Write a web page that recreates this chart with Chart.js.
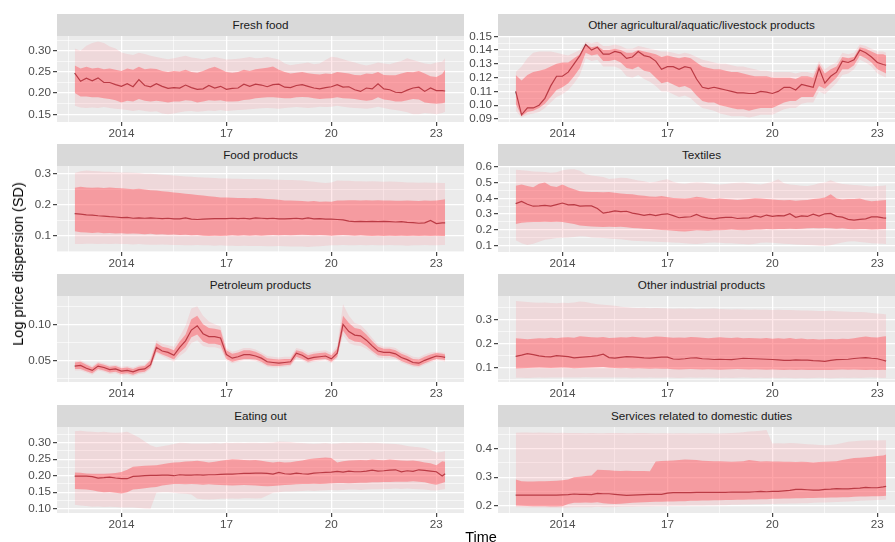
<!DOCTYPE html>
<html><head><meta charset="utf-8">
<script src="https://cdn.jsdelivr.net/npm/chart.js@4.4.1/dist/chart.umd.min.js"></script>
<style>
html,body{margin:0;padding:0;background:#fff;overflow:hidden;}
#wrap{position:relative;width:895px;height:542px;overflow:hidden;background:#fff;font-family:"Liberation Sans",Arial,Helvetica,sans-serif;}
.strip{position:absolute;height:22px;background:#D9D9D9;color:#1A1A1A;font-size:11.7px;line-height:22px;text-align:center;white-space:nowrap;}
canvas{position:absolute;}
.ttl{position:absolute;color:#000;font-size:14.5px;white-space:nowrap;}
</style></head><body><div id="wrap"></div>
<script>
// ---- time axis (bi-monthly observations) ----
const months = ["2012-09","2012-11",
"2013-01","2013-03","2013-05","2013-07","2013-09","2013-11",
"2014-01","2014-03","2014-05","2014-07","2014-09","2014-11",
"2015-01","2015-03","2015-05","2015-07","2015-09","2015-11",
"2016-01","2016-03","2016-05","2016-07","2016-09","2016-11",
"2017-01","2017-03","2017-05","2017-07","2017-09","2017-11",
"2018-01","2018-03","2018-05","2018-07","2018-09","2018-11",
"2019-01","2019-03","2019-05","2019-07","2019-09","2019-11",
"2020-01","2020-03","2020-05","2020-07","2020-09","2020-11",
"2021-01","2021-03","2021-05","2021-07","2021-09","2021-11",
"2022-01","2022-03","2022-05","2022-07","2022-09","2022-11",
"2023-01","2023-03","2023-04"];
const xTickValues = [2014, 2017, 2020, 2023];
const xTickLabels = ["2014", "17", "20", "23"];
const categories = ["Fresh food","Other agricultural/aquatic/livestock products","Food products","Textiles","Petroleum products","Other industrial products","Eating out","Services related to domestic duties"];

// ---- Fresh food ----
const freshMed=[0.247,0.228,0.235,0.229,0.236,0.225,0.225,0.220,0.216,0.222,0.215,0.232,0.218,
0.215,0.222,0.216,0.211,0.213,0.212,0.219,0.213,0.209,0.210,0.218,0.212,0.216,
0.209,0.211,0.212,0.221,0.216,0.221,0.219,0.215,0.220,0.221,0.214,0.213,0.218,
0.220,0.216,0.212,0.210,0.213,0.215,0.220,0.214,0.215,0.208,0.204,0.212,0.210,
0.222,0.210,0.208,0.202,0.201,0.207,0.212,0.214,0.204,0.212,0.206,0.206,0.205];
const freshInHi=[0.265,0.258,0.262,0.258,0.260,0.256,0.258,0.255,0.252,0.258,0.255,0.262,0.256,
0.258,0.257,0.252,0.250,0.252,0.251,0.255,0.250,0.248,0.252,0.258,0.262,0.256,
0.250,0.248,0.250,0.255,0.252,0.256,0.258,0.260,0.263,0.255,0.250,0.246,0.248,
0.250,0.247,0.245,0.244,0.246,0.245,0.250,0.248,0.246,0.243,0.242,0.246,0.245,
0.250,0.243,0.242,0.242,0.246,0.250,0.249,0.252,0.246,0.240,0.238,0.245,0.255];
const freshInLo=[0.200,0.192,0.192,0.190,0.190,0.188,0.186,0.183,0.178,0.182,0.180,0.186,0.182,
0.180,0.182,0.180,0.178,0.180,0.180,0.183,0.182,0.178,0.180,0.183,0.182,0.183,
0.180,0.180,0.181,0.184,0.185,0.188,0.189,0.190,0.190,0.189,0.188,0.188,0.190,
0.191,0.190,0.188,0.186,0.187,0.188,0.190,0.188,0.187,0.186,0.184,0.182,0.184,
0.190,0.185,0.183,0.180,0.180,0.183,0.186,0.185,0.178,0.176,0.175,0.176,0.178];
const freshOutHi=[0.305,0.300,0.312,0.318,0.322,0.318,0.310,0.305,0.296,0.292,0.290,0.295,0.292,
0.288,0.285,0.282,0.280,0.282,0.285,0.288,0.284,0.282,0.280,0.283,0.285,0.282,
0.279,0.280,0.281,0.283,0.285,0.282,0.283,0.285,0.282,0.279,0.270,0.266,0.268,
0.270,0.272,0.268,0.270,0.278,0.286,0.284,0.280,0.276,0.272,0.268,0.265,0.268,
0.272,0.270,0.268,0.272,0.276,0.282,0.278,0.274,0.270,0.268,0.272,0.274,0.282];
const freshOutLo=[0.170,0.166,0.165,0.166,0.165,0.167,0.165,0.163,0.162,0.160,0.158,0.160,0.158,
0.156,0.157,0.152,0.150,0.152,0.155,0.157,0.158,0.156,0.157,0.159,0.158,0.160,
0.158,0.159,0.160,0.161,0.162,0.163,0.164,0.165,0.164,0.163,0.165,0.166,0.167,
0.166,0.165,0.166,0.168,0.167,0.168,0.170,0.168,0.166,0.165,0.164,0.163,0.165,
0.168,0.165,0.162,0.160,0.158,0.155,0.150,0.150,0.153,0.152,0.150,0.153,0.156];
const freshTicks=[0.15,0.20,0.25,0.30];

// ---- Other agricultural/aquatic/livestock products ----
const agriMed=[0.110,0.093,0.098,0.098,0.100,0.105,0.114,0.121,0.121,0.124,0.130,0.136,0.144,
0.140,0.142,0.137,0.137,0.139,0.138,0.134,0.135,0.139,0.136,0.135,0.132,0.126,
0.128,0.128,0.126,0.128,0.127,0.119,0.113,0.112,0.113,0.112,0.111,0.110,0.109,
0.109,0.1085,0.1085,0.110,0.1095,0.1085,0.110,0.113,0.113,0.111,0.115,0.114,0.113,
0.127,0.116,0.121,0.124,0.132,0.131,0.133,0.140,0.138,0.135,0.131,0.1295,0.129];
const agriInHi=[0.122,0.118,0.122,0.124,0.125,0.126,0.128,0.130,0.131,0.131,0.134,0.137,0.144,
0.142,0.143,0.140,0.140,0.141,0.140,0.138,0.138,0.140,0.139,0.138,0.137,0.135,
0.136,0.135,0.134,0.135,0.134,0.131,0.128,0.127,0.126,0.126,0.125,0.124,0.124,
0.123,0.122,0.121,0.121,0.121,0.120,0.120,0.120,0.120,0.119,0.121,0.121,0.120,
0.130,0.123,0.126,0.128,0.135,0.134,0.135,0.142,0.141,0.139,0.137,0.137,0.136];
const agriInLo=[0.101,0.092,0.095,0.096,0.098,0.101,0.106,0.111,0.113,0.116,0.121,0.127,0.138,
0.136,0.137,0.132,0.132,0.133,0.131,0.127,0.126,0.128,0.125,0.124,0.120,0.116,
0.117,0.115,0.113,0.114,0.112,0.107,0.103,0.102,0.102,0.100,0.099,0.098,0.097,
0.097,0.096,0.097,0.098,0.098,0.098,0.100,0.102,0.103,0.103,0.106,0.106,0.106,
0.114,0.112,0.116,0.120,0.126,0.126,0.129,0.136,0.134,0.131,0.126,0.124,0.123];
const agriOutHi=[0.124,0.128,0.134,0.138,0.139,0.139,0.139,0.138,0.137,0.136,0.138,0.140,0.146,
0.145,0.146,0.143,0.143,0.144,0.143,0.141,0.141,0.143,0.142,0.141,0.140,0.139,
0.139,0.138,0.137,0.138,0.137,0.135,0.133,0.132,0.131,0.130,0.130,0.129,0.128,
0.128,0.127,0.126,0.125,0.125,0.124,0.124,0.124,0.124,0.123,0.124,0.124,0.123,
0.132,0.126,0.129,0.131,0.138,0.137,0.138,0.144,0.143,0.141,0.139,0.139,0.138];
const agriOutLo=[0.096,0.091,0.093,0.094,0.095,0.098,0.102,0.106,0.108,0.111,0.116,0.122,0.134,
0.132,0.133,0.128,0.128,0.128,0.126,0.121,0.120,0.122,0.119,0.117,0.114,0.110,
0.110,0.108,0.106,0.107,0.105,0.101,0.098,0.097,0.096,0.094,0.093,0.092,0.092,
0.092,0.091,0.092,0.093,0.093,0.093,0.095,0.097,0.098,0.098,0.101,0.102,0.102,
0.110,0.108,0.112,0.116,0.122,0.123,0.126,0.133,0.131,0.128,0.123,0.121,0.120];
const agriTicks=[0.09,0.10,0.11,0.12,0.13,0.14,0.15];

// ---- Food products ----
const foodMed=[0.172,0.170,0.168,0.167,0.165,0.164,0.162,0.161,0.159,0.160,0.157,0.158,0.157,
0.158,0.157,0.156,0.157,0.155,0.155,0.158,0.154,0.153,0.154,0.155,0.156,0.156,
0.156,0.157,0.156,0.157,0.155,0.158,0.157,0.156,0.157,0.155,0.155,0.156,0.157,
0.155,0.158,0.155,0.156,0.154,0.154,0.153,0.152,0.148,0.146,0.147,0.146,0.147,
0.146,0.147,0.146,0.145,0.146,0.144,0.143,0.141,0.142,0.150,0.140,0.142,0.142];
const foodInHi=[0.255,0.258,0.256,0.255,0.256,0.254,0.256,0.254,0.253,0.252,0.250,0.252,0.249,
0.247,0.246,0.244,0.242,0.240,0.238,0.236,0.234,0.232,0.230,0.228,0.226,0.224,
0.224,0.223,0.222,0.222,0.221,0.222,0.220,0.219,0.218,0.216,0.214,0.214,0.213,
0.212,0.211,0.212,0.210,0.211,0.210,0.214,0.214,0.215,0.215,0.214,0.215,0.214,
0.215,0.214,0.214,0.213,0.213,0.214,0.213,0.212,0.214,0.213,0.214,0.216,0.218];
const foodInLo=[0.115,0.112,0.111,0.110,0.111,0.109,0.110,0.108,0.109,0.107,0.108,0.107,0.106,
0.107,0.105,0.106,0.104,0.105,0.103,0.104,0.102,0.103,0.101,0.100,0.101,0.100,
0.101,0.102,0.101,0.102,0.101,0.102,0.101,0.102,0.103,0.102,0.103,0.102,0.103,
0.104,0.103,0.102,0.103,0.102,0.101,0.102,0.103,0.102,0.101,0.102,0.101,0.100,
0.101,0.100,0.101,0.100,0.101,0.100,0.101,0.100,0.101,0.100,0.101,0.100,0.100];
const foodOutHi=[0.302,0.308,0.310,0.309,0.308,0.306,0.306,0.305,0.304,0.304,0.303,0.302,0.300,
0.300,0.298,0.297,0.296,0.294,0.293,0.291,0.290,0.289,0.288,0.287,0.286,0.285,
0.285,0.284,0.284,0.283,0.283,0.282,0.282,0.282,0.281,0.281,0.280,0.280,0.279,
0.278,0.276,0.274,0.272,0.270,0.272,0.278,0.277,0.277,0.276,0.276,0.275,0.276,
0.275,0.274,0.275,0.274,0.273,0.272,0.272,0.271,0.272,0.271,0.271,0.270,0.270];
const foodOutLo=[0.074,0.074,0.075,0.075,0.074,0.075,0.074,0.075,0.074,0.074,0.073,0.074,0.073,
0.072,0.072,0.073,0.072,0.071,0.071,0.070,0.070,0.071,0.070,0.070,0.069,0.070,
0.069,0.069,0.068,0.069,0.068,0.068,0.068,0.067,0.067,0.068,0.067,0.066,0.066,
0.066,0.065,0.066,0.067,0.069,0.070,0.070,0.071,0.070,0.070,0.071,0.070,0.071,
0.070,0.070,0.071,0.070,0.070,0.069,0.070,0.070,0.071,0.070,0.070,0.071,0.071];
const foodTicks=[0.1,0.2,0.3];

// ---- Textiles ----
const textMed=[0.366,0.380,0.362,0.350,0.352,0.355,0.350,0.360,0.370,0.358,0.360,0.350,0.352,
0.352,0.335,0.306,0.312,0.320,0.316,0.318,0.306,0.300,0.292,0.298,0.290,0.298,
0.302,0.290,0.277,0.281,0.283,0.298,0.282,0.274,0.270,0.276,0.279,0.280,0.272,
0.274,0.276,0.288,0.281,0.294,0.286,0.290,0.289,0.303,0.280,0.289,0.285,0.300,
0.287,0.302,0.304,0.286,0.281,0.267,0.262,0.266,0.270,0.282,0.282,0.276,0.275];
const textInHi=[0.480,0.488,0.478,0.470,0.492,0.500,0.478,0.472,0.488,0.470,0.458,0.445,0.442,
0.440,0.440,0.438,0.440,0.435,0.430,0.428,0.425,0.420,0.416,0.412,0.410,0.415,
0.408,0.402,0.400,0.398,0.402,0.410,0.405,0.398,0.395,0.398,0.396,0.392,0.390,
0.392,0.395,0.400,0.398,0.395,0.392,0.390,0.388,0.390,0.385,0.388,0.390,0.395,
0.398,0.405,0.425,0.398,0.392,0.395,0.395,0.398,0.388,0.382,0.385,0.388,0.390];
const textInLo=[0.238,0.245,0.248,0.250,0.250,0.252,0.250,0.252,0.250,0.244,0.238,0.228,0.225,
0.222,0.220,0.218,0.220,0.218,0.220,0.217,0.212,0.210,0.208,0.205,0.203,0.200,
0.198,0.195,0.192,0.190,0.193,0.198,0.196,0.195,0.197,0.198,0.200,0.202,0.200,
0.198,0.200,0.203,0.202,0.205,0.204,0.206,0.205,0.208,0.206,0.208,0.210,0.212,
0.210,0.212,0.210,0.208,0.210,0.205,0.204,0.206,0.205,0.203,0.204,0.205,0.206];
const textOutHi=[0.580,0.578,0.575,0.570,0.568,0.566,0.562,0.565,0.578,0.582,0.584,0.575,0.552,
0.545,0.540,0.535,0.522,0.525,0.530,0.528,0.520,0.512,0.508,0.500,0.505,0.515,
0.520,0.505,0.495,0.492,0.498,0.502,0.500,0.495,0.490,0.488,0.490,0.495,0.498,
0.500,0.495,0.490,0.488,0.495,0.505,0.520,0.495,0.488,0.485,0.480,0.478,0.485,
0.495,0.500,0.515,0.500,0.490,0.488,0.485,0.482,0.478,0.475,0.478,0.480,0.482];
const textOutLo=[0.135,0.115,0.105,0.112,0.125,0.138,0.142,0.148,0.150,0.152,0.155,0.160,0.158,
0.152,0.150,0.148,0.145,0.142,0.140,0.136,0.132,0.130,0.128,0.126,0.125,0.124,
0.122,0.120,0.118,0.115,0.112,0.110,0.114,0.118,0.120,0.118,0.116,0.115,0.113,
0.110,0.108,0.112,0.118,0.120,0.118,0.115,0.112,0.110,0.108,0.106,0.104,0.102,
0.100,0.098,0.102,0.112,0.120,0.126,0.128,0.124,0.120,0.116,0.114,0.112,0.110];
const textTicks=[0.1,0.2,0.3,0.4,0.5,0.6];

// ---- Petroleum products ----
const petMed=[0.042,0.043,0.039,0.036,0.042,0.040,0.037,0.038,0.035,0.036,0.034,0.037,0.038,
0.044,0.068,0.063,0.061,0.057,0.068,0.077,0.092,0.098,0.087,0.083,0.083,0.081,
0.058,0.053,0.055,0.058,0.058,0.056,0.053,0.048,0.047,0.046,0.047,0.048,0.060,
0.057,0.052,0.054,0.055,0.056,0.052,0.060,0.100,0.090,0.085,0.084,0.078,0.070,
0.063,0.061,0.061,0.059,0.054,0.051,0.047,0.046,0.050,0.053,0.056,0.055,0.054];
const petInHi=[0.047,0.048,0.044,0.040,0.046,0.044,0.041,0.042,0.039,0.040,0.038,0.041,0.042,
0.050,0.074,0.069,0.067,0.064,0.076,0.086,0.107,0.112,0.100,0.095,0.094,0.092,
0.064,0.059,0.061,0.064,0.064,0.062,0.058,0.053,0.052,0.051,0.052,0.052,0.064,
0.062,0.057,0.059,0.060,0.061,0.057,0.066,0.112,0.102,0.095,0.093,0.086,0.077,
0.069,0.066,0.066,0.064,0.059,0.056,0.052,0.051,0.055,0.058,0.060,0.059,0.058];
const petInLo=[0.038,0.038,0.035,0.032,0.038,0.036,0.033,0.034,0.031,0.032,0.030,0.033,0.034,
0.040,0.062,0.058,0.055,0.051,0.061,0.068,0.082,0.086,0.076,0.073,0.073,0.071,
0.052,0.048,0.050,0.052,0.052,0.051,0.048,0.043,0.042,0.042,0.043,0.044,0.055,
0.052,0.048,0.050,0.051,0.052,0.048,0.055,0.091,0.080,0.076,0.075,0.070,0.063,
0.057,0.056,0.056,0.054,0.049,0.046,0.043,0.042,0.046,0.049,0.052,0.051,0.050];
const petOutHi=[0.049,0.050,0.046,0.042,0.048,0.046,0.043,0.044,0.041,0.042,0.040,0.043,0.044,
0.053,0.078,0.073,0.071,0.069,0.083,0.098,0.122,0.125,0.112,0.104,0.100,0.097,
0.067,0.062,0.064,0.067,0.067,0.065,0.061,0.056,0.055,0.054,0.055,0.055,0.067,
0.065,0.060,0.062,0.063,0.064,0.060,0.070,0.128,0.112,0.102,0.099,0.091,0.081,
0.072,0.069,0.069,0.067,0.062,0.059,0.055,0.054,0.058,0.061,0.062,0.061,0.060];
const petOutLo=[0.036,0.036,0.033,0.030,0.036,0.034,0.031,0.032,0.029,0.030,0.028,0.031,0.032,
0.038,0.060,0.056,0.052,0.048,0.056,0.062,0.074,0.078,0.070,0.068,0.068,0.066,
0.050,0.046,0.048,0.050,0.050,0.049,0.046,0.041,0.040,0.040,0.041,0.042,0.052,
0.050,0.046,0.048,0.049,0.050,0.046,0.053,0.085,0.074,0.071,0.070,0.066,0.060,
0.054,0.053,0.053,0.052,0.047,0.044,0.041,0.040,0.044,0.047,0.050,0.049,0.048];
const petTicks=[0.05,0.10];

// ---- Other industrial products ----
const indMed=[0.147,0.152,0.158,0.154,0.149,0.146,0.145,0.150,0.148,0.146,0.141,0.143,0.145,
0.147,0.150,0.156,0.142,0.140,0.143,0.146,0.145,0.143,0.141,0.140,0.142,0.144,
0.144,0.136,0.135,0.137,0.140,0.141,0.137,0.136,0.134,0.135,0.134,0.133,0.136,
0.139,0.138,0.137,0.136,0.135,0.134,0.132,0.130,0.130,0.132,0.131,0.131,0.129,
0.128,0.126,0.130,0.133,0.134,0.135,0.138,0.140,0.142,0.139,0.137,0.131,0.127];
const indInHi=[0.222,0.220,0.218,0.220,0.222,0.221,0.224,0.222,0.225,0.226,0.224,0.230,0.228,
0.226,0.225,0.227,0.223,0.224,0.226,0.225,0.228,0.226,0.224,0.226,0.229,0.228,
0.226,0.224,0.225,0.224,0.227,0.226,0.224,0.222,0.224,0.226,0.224,0.223,0.225,
0.222,0.223,0.222,0.221,0.223,0.220,0.222,0.220,0.223,0.219,0.221,0.218,0.219,
0.217,0.218,0.219,0.218,0.220,0.219,0.222,0.226,0.229,0.226,0.225,0.229,0.230];
const indInLo=[0.097,0.098,0.099,0.100,0.101,0.100,0.099,0.100,0.101,0.100,0.098,0.099,0.100,
0.101,0.102,0.103,0.100,0.099,0.098,0.099,0.097,0.098,0.097,0.096,0.097,0.096,
0.096,0.094,0.093,0.094,0.095,0.094,0.093,0.094,0.093,0.092,0.093,0.094,0.095,
0.094,0.093,0.094,0.093,0.092,0.093,0.092,0.091,0.092,0.091,0.092,0.091,0.090,
0.091,0.090,0.091,0.092,0.093,0.092,0.093,0.092,0.091,0.092,0.091,0.092,0.090];
const indOutHi=[0.376,0.374,0.372,0.370,0.368,0.369,0.367,0.366,0.368,0.367,0.370,0.374,0.372,
0.366,0.362,0.360,0.358,0.356,0.352,0.350,0.348,0.347,0.348,0.346,0.347,0.346,
0.345,0.344,0.345,0.344,0.345,0.343,0.344,0.344,0.345,0.343,0.342,0.341,0.342,
0.341,0.340,0.341,0.340,0.340,0.339,0.340,0.339,0.338,0.337,0.336,0.336,0.335,
0.334,0.334,0.335,0.333,0.332,0.331,0.330,0.330,0.329,0.326,0.324,0.322,0.320];
const indOutLo=[0.058,0.058,0.057,0.058,0.059,0.058,0.059,0.060,0.059,0.060,0.059,0.060,0.061,
0.060,0.059,0.060,0.060,0.059,0.060,0.059,0.058,0.059,0.058,0.059,0.058,0.058,
0.059,0.058,0.057,0.058,0.059,0.058,0.059,0.058,0.058,0.057,0.058,0.057,0.058,
0.059,0.058,0.057,0.058,0.057,0.058,0.057,0.058,0.057,0.056,0.057,0.056,0.057,
0.058,0.057,0.056,0.057,0.058,0.057,0.058,0.057,0.058,0.059,0.058,0.057,0.058];
const indTicks=[0.1,0.2,0.3];

// ---- Eating out ----
const eatMed=[0.199,0.199,0.199,0.197,0.193,0.194,0.196,0.193,0.191,0.191,0.198,0.199,0.200,
0.201,0.201,0.202,0.202,0.200,0.203,0.202,0.202,0.203,0.202,0.203,0.203,0.204,
0.205,0.205,0.206,0.207,0.207,0.208,0.208,0.207,0.205,0.210,0.206,0.205,0.208,
0.206,0.205,0.208,0.209,0.210,0.211,0.213,0.211,0.214,0.212,0.212,0.214,0.217,
0.214,0.215,0.217,0.218,0.212,0.215,0.213,0.218,0.216,0.214,0.212,0.199,0.206];
const eatInHi=[0.210,0.209,0.207,0.206,0.206,0.206,0.207,0.208,0.211,0.218,0.227,0.229,0.230,
0.231,0.232,0.235,0.238,0.240,0.241,0.243,0.244,0.245,0.243,0.240,0.242,0.245,
0.248,0.250,0.249,0.248,0.247,0.248,0.245,0.242,0.240,0.242,0.240,0.241,0.244,
0.246,0.250,0.252,0.254,0.255,0.254,0.240,0.244,0.246,0.247,0.248,0.247,0.249,
0.248,0.247,0.249,0.248,0.246,0.245,0.246,0.244,0.240,0.238,0.232,0.244,0.242];
const eatInLo=[0.160,0.159,0.158,0.156,0.152,0.150,0.151,0.148,0.146,0.150,0.158,0.160,0.162,
0.164,0.166,0.170,0.173,0.175,0.175,0.174,0.175,0.174,0.173,0.174,0.173,0.172,
0.171,0.170,0.171,0.172,0.171,0.170,0.169,0.168,0.169,0.170,0.172,0.173,0.174,
0.175,0.175,0.176,0.175,0.176,0.177,0.178,0.178,0.177,0.178,0.179,0.179,0.180,
0.180,0.181,0.181,0.182,0.182,0.182,0.183,0.182,0.180,0.176,0.173,0.178,0.181];
const eatOutHi=[0.335,0.336,0.334,0.333,0.332,0.333,0.331,0.330,0.331,0.333,0.325,0.316,0.304,
0.292,0.286,0.289,0.292,0.296,0.300,0.299,0.298,0.298,0.298,0.298,0.299,0.298,
0.300,0.299,0.300,0.299,0.300,0.300,0.299,0.300,0.301,0.304,0.303,0.302,0.300,
0.299,0.298,0.297,0.298,0.299,0.297,0.298,0.300,0.299,0.300,0.300,0.299,0.300,
0.299,0.298,0.297,0.296,0.294,0.290,0.288,0.286,0.284,0.278,0.270,0.272,0.275];
const eatOutLo=[0.112,0.110,0.108,0.106,0.107,0.105,0.106,0.105,0.104,0.104,0.104,0.102,0.101,
0.100,0.148,0.150,0.150,0.148,0.146,0.145,0.143,0.130,0.129,0.128,0.129,0.130,
0.130,0.131,0.130,0.132,0.132,0.131,0.132,0.140,0.148,0.150,0.152,0.152,0.153,
0.154,0.155,0.154,0.155,0.156,0.157,0.156,0.157,0.158,0.158,0.157,0.158,0.159,
0.159,0.160,0.160,0.161,0.160,0.161,0.160,0.159,0.158,0.156,0.155,0.158,0.160];
const eatTicks=[0.10,0.15,0.20,0.25,0.30];

// ---- Services related to domestic duties ----
const servMed=[0.237,0.237,0.237,0.237,0.237,0.237,0.237,0.237,0.238,0.239,0.241,0.240,0.240,
0.239,0.243,0.242,0.242,0.240,0.238,0.236,0.237,0.238,0.239,0.240,0.240,0.240,
0.244,0.246,0.246,0.246,0.246,0.247,0.247,0.247,0.247,0.247,0.247,0.248,0.248,
0.248,0.248,0.249,0.250,0.249,0.250,0.250,0.252,0.254,0.257,0.257,0.256,0.255,
0.255,0.257,0.258,0.260,0.259,0.259,0.261,0.262,0.264,0.263,0.263,0.266,0.268];
const servInHi=[0.292,0.286,0.285,0.285,0.286,0.286,0.287,0.288,0.289,0.292,0.300,0.302,0.304,
0.306,0.326,0.325,0.324,0.323,0.322,0.323,0.322,0.322,0.322,0.321,0.355,0.357,
0.358,0.359,0.360,0.362,0.361,0.360,0.358,0.357,0.356,0.356,0.355,0.354,0.355,
0.356,0.360,0.358,0.355,0.356,0.355,0.355,0.354,0.354,0.353,0.354,0.353,0.352,
0.353,0.354,0.355,0.356,0.360,0.364,0.367,0.368,0.370,0.372,0.374,0.376,0.380];
const servInLo=[0.201,0.200,0.199,0.198,0.198,0.198,0.197,0.197,0.198,0.206,0.210,0.210,0.211,
0.210,0.212,0.209,0.207,0.206,0.207,0.209,0.210,0.211,0.212,0.213,0.214,0.214,
0.215,0.215,0.216,0.216,0.217,0.217,0.218,0.218,0.219,0.219,0.220,0.220,0.221,
0.221,0.222,0.222,0.223,0.223,0.224,0.224,0.225,0.225,0.226,0.226,0.227,0.227,
0.228,0.228,0.229,0.229,0.230,0.230,0.231,0.232,0.232,0.233,0.233,0.234,0.235];
const servOutHi=[0.456,0.457,0.457,0.456,0.457,0.456,0.456,0.455,0.456,0.455,0.455,0.455,0.454,
0.455,0.454,0.454,0.455,0.455,0.455,0.454,0.454,0.455,0.455,0.454,0.453,0.454,
0.454,0.453,0.454,0.454,0.453,0.453,0.454,0.454,0.453,0.453,0.454,0.455,0.456,
0.458,0.460,0.461,0.463,0.466,0.418,0.419,0.418,0.420,0.419,0.417,0.416,0.415,
0.413,0.412,0.413,0.416,0.420,0.424,0.426,0.428,0.429,0.430,0.429,0.430,0.430];
const servOutLo=[0.195,0.195,0.194,0.194,0.194,0.194,0.193,0.193,0.193,0.194,0.195,0.195,0.195,
0.195,0.196,0.195,0.195,0.195,0.196,0.196,0.196,0.197,0.197,0.197,0.198,0.198,
0.198,0.199,0.199,0.199,0.200,0.200,0.200,0.201,0.201,0.202,0.202,0.203,0.203,
0.204,0.204,0.205,0.205,0.206,0.206,0.207,0.207,0.208,0.208,0.209,0.209,0.210,
0.211,0.211,0.212,0.213,0.214,0.215,0.216,0.217,0.218,0.219,0.220,0.221,0.222];
const servTicks=[0.2,0.3,0.4];

// ---------------- rendering ----------------
const T = months.map(s => { const [y, m] = s.split("-").map(Number); return y + (m - 1) / 12; });
const FONT = '"Liberation Sans", Arial, Helvetica, sans-serif';
const X_MIN = 2012.16, X_MAX = 2023.79;
const ROW_STRIP_TOP = [14, 144, 274, 405];
const STRIP_H = 22, PANEL_H = 86, PAD_TOP = 9, XAXIS_H = 24, CHART_W = 407;
const COLS = [{chartLeft: 57, canvasLeft: 0}, {chartLeft: 498, canvasLeft: 466}];

const panels = [
  {med: freshMed, inLo: freshInLo, inHi: freshInHi, outLo: freshOutLo, outHi: freshOutHi, ticks: freshTicks, dec: 2, yMin: 0.1318, yMax: 0.3347},
  {med: agriMed, inLo: agriInLo, inHi: agriInHi, outLo: agriOutLo, outHi: agriOutHi, ticks: agriTicks, dec: 2, yMin: 0.0878, yMax: 0.1502},
  {med: foodMed, inLo: foodInLo, inHi: foodInHi, outLo: foodOutLo, outHi: foodOutHi, ticks: foodTicks, dec: 1, yMin: 0.0486, yMax: 0.3247},
  {med: textMed, inLo: textInLo, inHi: textInHi, outLo: textOutLo, outHi: textOutHi, ticks: textTicks, dec: 1, yMin: 0.060, yMax: 0.6044},
  {med: petMed, inLo: petInLo, inHi: petInHi, outLo: petOutLo, outHi: petOutHi, ticks: petTicks, dec: 2, yMin: 0.0199, yMax: 0.1393},
  {med: indMed, inLo: indInLo, inHi: indInHi, outLo: indOutLo, outHi: indOutHi, ticks: indTicks, dec: 1, yMin: 0.0409, yMax: 0.3963},
  {med: eatMed, inLo: eatInLo, inHi: eatInHi, outLo: eatOutLo, outHi: eatOutHi, ticks: eatTicks, dec: 2, yMin: 0.087, yMax: 0.3476},
  {med: servMed, inLo: servInLo, inHi: servInHi, outLo: servOutLo, outHi: servOutHi, ticks: servTicks, dec: 1, yMin: 0.1744, yMax: 0.4761}
];

const bgPlugin = {
  id: 'panelBg',
  beforeDraw(c) {
    const a = c.chartArea, ctx = c.ctx;
    ctx.save(); ctx.fillStyle = '#EBEBEB';
    ctx.fillRect(a.left, a.top, a.right - a.left, a.bottom - a.top);
    ctx.restore();
  }
};

function tickSet(major, labels, min, max) {
  const step = major[1] - major[0];
  const out = [];
  for (let k = -1; k < major.length; k++) {
    const base = k >= 0 ? major[k] : major[0] - step;
    const m = base + step / 2;
    if (m > min && m < max) out.push({value: m, major: false, lbl: ''});
  }
  major.forEach((v, i) => { if (v >= min - 1e-9 && v <= max + 1e-9) out.push({value: v, major: true, lbl: labels[i]}); });
  out.sort((a, b) => a.value - b.value);
  return out;
}

function pts(arr) { const n = Math.min(arr.length, T.length); const r = []; for (let i = 0; i < n; i++) r.push({x: T[i], y: arr[i]}); return r; }

const gridOpts = {
  color: '#FFFFFF',
  lineWidth: c => (c.tick && c.tick.major) ? 1.3 : 0.6,
  tickColor: c => (c.tick && c.tick.major) ? '#333333' : 'rgba(0,0,0,0)',
  tickWidth: 1.1,
  tickLength: 4,
  drawTicks: true,
  drawOnChartArea: true
};

const wrap = document.getElementById('wrap');
panels.forEach((p, idx) => {
  const col = idx % 2, row = Math.floor(idx / 2);
  const C = COLS[col];
  const stripTop = ROW_STRIP_TOP[row];
  const panelTop = stripTop + STRIP_H;

  const strip = document.createElement('div');
  strip.className = 'strip';
  strip.style.left = C.chartLeft + 'px';
  strip.style.top = stripTop + 'px';
  strip.style.width = CHART_W + 'px';
  strip.textContent = categories[idx];
  wrap.appendChild(strip);

  const cv = document.createElement('canvas');
  const cw = C.chartLeft - C.canvasLeft + CHART_W + 2;
  const ch = PAD_TOP + PANEL_H + XAXIS_H;
  cv.width = cw; cv.height = ch;
  cv.style.width = cw + 'px'; cv.style.height = ch + 'px';
  cv.style.left = C.canvasLeft + 'px';
  cv.style.top = (panelTop - PAD_TOP) + 'px';
  wrap.appendChild(cv);

  const yLabels = p.ticks.map(v => v.toFixed(p.dec));
  const yT = tickSet(p.ticks, yLabels, p.yMin, p.yMax);
  const xT = tickSet(xTickValues, xTickLabels, X_MIN, X_MAX);
  const yW = C.chartLeft - C.canvasLeft;

  new Chart(cv, {
    type: 'line',
    data: {
      datasets: [
        {data: pts(p.outLo), borderColor: 'rgba(0,0,0,0)', borderWidth: 0, pointRadius: 0, fill: false},
        {data: pts(p.outHi), borderColor: 'rgba(0,0,0,0)', borderWidth: 0, pointRadius: 0, fill: '-1', backgroundColor: 'rgba(255,105,120,0.15)'},
        {data: pts(p.inLo), borderColor: 'rgba(0,0,0,0)', borderWidth: 0, pointRadius: 0, fill: false},
        {data: pts(p.inHi), borderColor: 'rgba(0,0,0,0)', borderWidth: 0, pointRadius: 0, fill: '-1', backgroundColor: 'rgba(255,80,88,0.46)'},
        {data: pts(p.med), borderColor: '#6B1A25', borderWidth: 1.2, pointRadius: 0, fill: false, tension: 0}
      ]
    },
    options: {
      responsive: false, animation: false, devicePixelRatio: 1, events: [],
      layout: {padding: {top: PAD_TOP, right: 2, left: 0, bottom: 0}},
      plugins: {legend: {display: false}, tooltip: {enabled: false}},
      scales: {
        x: {
          type: 'linear', min: X_MIN, max: X_MAX,
          afterBuildTicks: s => { s.ticks = xT.map(t => ({value: t.value, major: t.major, lbl: t.lbl})); },
          afterFit: s => { s.height = XAXIS_H; },
          ticks: {autoSkip: false, maxRotation: 0, minRotation: 0, padding: 1, color: '#4D4D4D',
                  font: {family: FONT, size: 11.7}, callback: (v, i, ts) => ts[i].lbl},
          grid: gridOpts, border: {display: false}
        },
        y: {
          type: 'linear', min: p.yMin, max: p.yMax,
          afterBuildTicks: s => { s.ticks = yT.map(t => ({value: t.value, major: t.major, lbl: t.lbl})); },
          afterFit: s => { s.width = yW; },
          ticks: {autoSkip: false, padding: 2, color: '#4D4D4D',
                  font: {family: FONT, size: 11.7}, callback: (v, i, ts) => ts[i].lbl},
          grid: gridOpts, border: {display: false}
        }
      }
    },
    plugins: [bgPlugin]
  });
});

const yt = document.createElement('div');
yt.className = 'ttl';
yt.textContent = 'Log price dispersion (SD)';
yt.style.left = '18px'; yt.style.top = '264px';
yt.style.transform = 'translate(-50%,-50%) rotate(-90deg)';
wrap.appendChild(yt);

const xt = document.createElement('div');
xt.className = 'ttl';
xt.textContent = 'Time';
xt.style.left = '481px'; xt.style.top = '537px';
xt.style.transform = 'translate(-50%,-50%)';
wrap.appendChild(xt);
</script>
</body></html>
